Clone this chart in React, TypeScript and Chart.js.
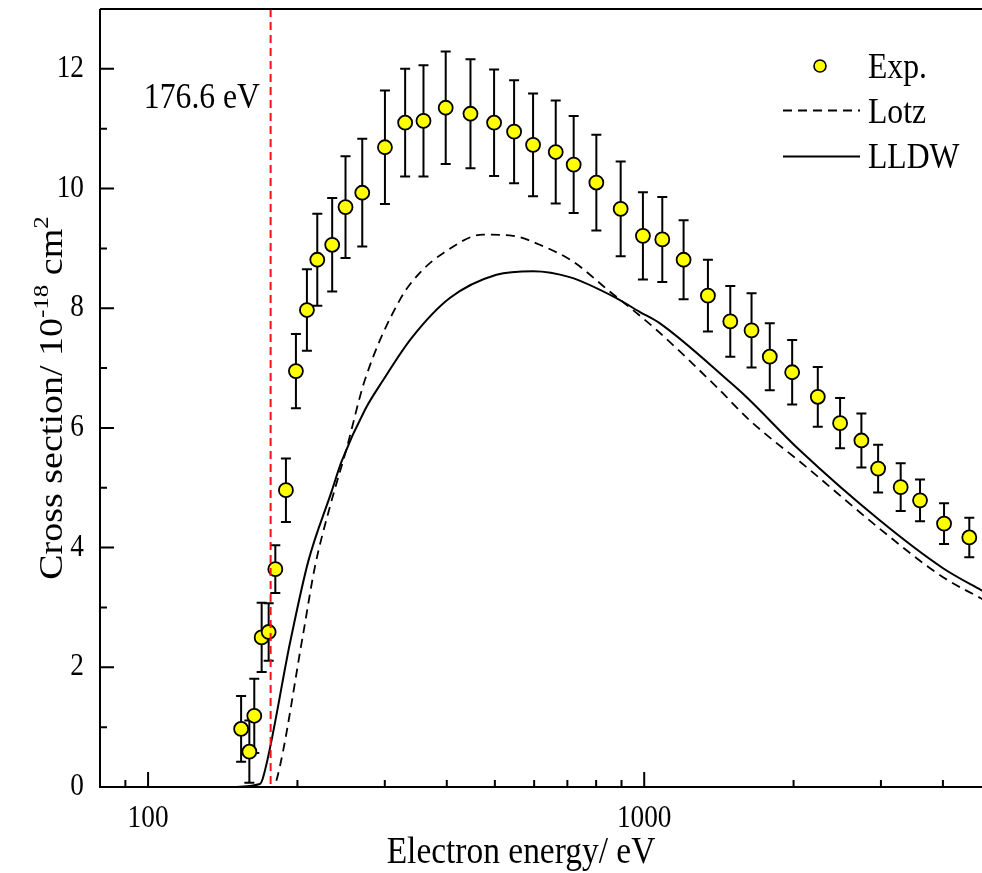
import React, { useEffect, useRef } from "react";
import { Chart, registerables } from "chart.js";
Chart.register(...registerables);

// ---- data ----
const expEnergy = [154, 160, 163.7, 169.4, 175, 180.5, 189.6, 198.6, 209, 219.3, 235, 250, 270.2, 300.2, 329.7, 359, 398, 446.5, 498.2, 546.7, 597, 663.2, 720.8, 800.8, 896.5, 994, 1087.5, 1200.5, 1344, 1491, 1645.6, 1791, 1987, 2238, 2482, 2740, 2961, 3288, 3597, 4021, 4521];
const expCross = [0.97, 0.59, 1.19, 2.5, 2.59, 3.64, 4.96, 6.95, 7.97, 8.81, 9.06, 9.69, 9.93, 10.69, 11.1, 11.13, 11.35, 11.25, 11.1, 10.95, 10.73, 10.61, 10.4, 10.1, 9.66, 9.21, 9.15, 8.81, 8.21, 7.78, 7.63, 7.19, 6.93, 6.52, 6.08, 5.79, 5.32, 5.01, 4.79, 4.4, 4.17];
const expError = [0.55, 0.52, 0.62, 0.58, 0.48, 0.4, 0.53, 0.62, 0.68, 0.77, 0.78, 0.85, 0.9, 0.95, 0.9, 0.93, 0.94, 0.91, 0.89, 0.86, 0.86, 0.86, 0.81, 0.8, 0.79, 0.73, 0.71, 0.66, 0.6, 0.59, 0.62, 0.56, 0.54, 0.5, 0.42, 0.45, 0.4, 0.4, 0.35, 0.34, 0.33];

const lotzEnergy = [150, 178.5, 181.6, 205.5, 216.9, 232.5, 251.3, 273.5, 321.7, 352.9, 393.3, 473.3, 544, 615.7, 718.6, 851.7, 949, 1058, 1397, 1630, 2121, 2979, 3995, 4778, 5000];
const lotzCross = [0, 0, 0.12, 2.57, 3.68, 4.68, 5.66, 6.8, 8.14, 8.59, 8.92, 9.23, 9.21, 9.06, 8.78, 8.28, 7.97, 7.64, 6.69, 6.13, 5.35, 4.32, 3.51, 3.15, 3.06];

const lldwEnergy = [148, 168, 170.7, 193.8, 210.3, 234.4, 245.5, 273.5, 297.8, 339.6, 405.6, 503.7, 597, 707.6, 878.5, 978.8, 1074, 1486, 1605, 2056, 2979, 3995, 4778, 5000];
const lldwCross = [0, 0.05, 0.17, 2.46, 3.77, 4.94, 5.44, 6.3, 6.8, 7.5, 8.17, 8.56, 8.62, 8.52, 8.17, 7.94, 7.75, 6.77, 6.52, 5.63, 4.46, 3.66, 3.29, 3.2];

const thresholdEnergy = 176.6;
const thresholdLabel = "176.6 eV";

const xMajorTicks = [100, 1000];
const xMinorTicks = [90, 200, 300, 400, 500, 600, 700, 800, 900, 2000, 3000, 4000];
const yMajorTicks = [0, 2, 4, 6, 8, 10, 12];
const yMinorTicks = [1, 3, 5, 7, 9, 11];

const legendLabels = ["Exp.", "Lotz", "LLDW"];
const xTitle = "Electron energy/ eV";

// ---- styling ----
const FONT = '"Liberation Serif", "Times New Roman", serif';
const SX = 0.88;

function txt(ctx: CanvasRenderingContext2D, s: string, x: number, y: number, size: number, align: CanvasTextAlign = "left", baseline: CanvasTextBaseline = "alphabetic") {
  ctx.save();
  ctx.translate(x, y);
  ctx.scale(SX, 1);
  ctx.font = `${size}px ${FONT}`;
  ctx.textAlign = align;
  ctx.textBaseline = baseline;
  ctx.fillStyle = "#000";
  ctx.fillText(s, 0, 0);
  ctx.restore();
}

const decor = {
  id: "decor",
  beforeDatasetsDraw(chart: any) {
    const { ctx, scales } = chart;
    const x = scales.x, y = scales.y;
    ctx.save();
    ctx.strokeStyle = "#000";
    ctx.lineWidth = 2;
    for (let i = 0; i < expEnergy.length; i++) {
      const px = x.getPixelForValue(expEnergy[i]);
      const t = y.getPixelForValue(expCross[i] + expError[i]);
      const b = y.getPixelForValue(Math.max(0, expCross[i] - expError[i]));
      ctx.beginPath();
      ctx.moveTo(px, t); ctx.lineTo(px, b);
      ctx.moveTo(px - 5, t); ctx.lineTo(px + 5, t);
      ctx.moveTo(px - 5, b); ctx.lineTo(px + 5, b);
      ctx.stroke();
    }
    ctx.restore();
  },
  afterDatasetsDraw(chart: any) {
    const { ctx, chartArea, scales } = chart;
    const px = scales.x.getPixelForValue(thresholdEnergy);
    ctx.save();
    ctx.strokeStyle = "#ff1010";
    ctx.lineWidth = 2;
    ctx.setLineDash([8, 5]);
    ctx.beginPath();
    ctx.moveTo(px, chartArea.top);
    ctx.lineTo(px, chartArea.bottom);
    ctx.stroke();
    ctx.restore();
  },
  afterDraw(chart: any) {
    const { ctx, chartArea, scales } = chart;
    const x = scales.x, y = scales.y;
    const { left, right, top, bottom } = chartArea;
    ctx.save();
    ctx.strokeStyle = "#000";
    ctx.lineWidth = 2;
    ctx.beginPath();
    ctx.moveTo(left, top); ctx.lineTo(right, top);
    ctx.moveTo(left, top); ctx.lineTo(left, bottom);
    ctx.moveTo(left - 1, bottom); ctx.lineTo(right, bottom);
    ctx.moveTo(right, top); ctx.lineTo(right, bottom);
    yMajorTicks.forEach((v) => { const py = y.getPixelForValue(v); ctx.moveTo(left, py); ctx.lineTo(left + 14, py); });
    yMinorTicks.forEach((v) => { const py = y.getPixelForValue(v); ctx.moveTo(left, py); ctx.lineTo(left + 7, py); });
    xMajorTicks.forEach((v) => { const px = x.getPixelForValue(v); ctx.moveTo(px, bottom); ctx.lineTo(px, bottom - 15); });
    xMinorTicks.forEach((v) => { const px = x.getPixelForValue(v); ctx.moveTo(px, bottom); ctx.lineTo(px, bottom - 7); });
    ctx.stroke();
    ctx.restore();

    yMajorTicks.forEach((v) => txt(ctx, String(v), left - 16, y.getPixelForValue(v), 31, "right", "middle"));
    xMajorTicks.forEach((v) => txt(ctx, String(v), x.getPixelForValue(v), bottom + 32, 31, "center", "middle"));

    txt(ctx, xTitle, 521, 863, 38, "center", "alphabetic");

    ctx.save();
    ctx.translate(62, 398);
    ctx.rotate(-Math.PI / 2);
    ctx.scale(1, SX);
    ctx.fillStyle = "#000";
    ctx.textBaseline = "alphabetic";
    ctx.textAlign = "left";
    const main = 38, sup = 25;
    const parts: [string, number, number][] = [
      ["Cross section/ 10", main, 0],
      ["-18", sup, -16],
      [" cm", main, 0],
      ["2", sup, -16],
    ];
    let total = 0;
    parts.forEach(([s, sz]) => { ctx.font = `${sz}px ${FONT}`; total += ctx.measureText(s).width; });
    let u = -total / 2;
    parts.forEach(([s, sz, dv]) => { ctx.font = `${sz}px ${FONT}`; ctx.fillText(s, u, dv); u += ctx.measureText(s).width; });
    ctx.restore();

    txt(ctx, thresholdLabel, 260, 108, 36, "right", "alphabetic");

    ctx.save();
    ctx.beginPath();
    ctx.arc(820, 66, 6, 0, Math.PI * 2);
    ctx.fillStyle = "#ffff00";
    ctx.fill();
    ctx.lineWidth = 1.6;
    ctx.strokeStyle = "#000";
    ctx.stroke();
    ctx.lineWidth = 2;
    ctx.setLineDash([9, 6]);
    ctx.beginPath();
    ctx.moveTo(783, 110.5); ctx.lineTo(860, 110.5);
    ctx.stroke();
    ctx.setLineDash([]);
    ctx.beginPath();
    ctx.moveTo(783, 156.5); ctx.lineTo(860, 156.5);
    ctx.stroke();
    ctx.restore();
    txt(ctx, legendLabels[0], 868, 78, 36);
    txt(ctx, legendLabels[1], 868, 123, 36);
    txt(ctx, legendLabels[2], 868, 168, 36);
  },
};

export default function App() {
  const ref = useRef<HTMLCanvasElement | null>(null);
  useEffect(() => {
    if (!ref.current) return;
    const chart = new Chart(ref.current, {
      type: "scatter",
      data: {
        datasets: [
          {
            label: legendLabels[1],
            data: lotzEnergy.map((e, i) => ({ x: e, y: lotzCross[i] })),
            showLine: true,
            borderColor: "#000",
            borderWidth: 1.8,
            borderDash: [9, 6],
            pointRadius: 0,
            cubicInterpolationMode: "monotone",
            fill: false,
          },
          {
            label: legendLabels[2],
            data: lldwEnergy.map((e, i) => ({ x: e, y: lldwCross[i] })),
            showLine: true,
            borderColor: "#000",
            borderWidth: 2,
            pointRadius: 0,
            cubicInterpolationMode: "monotone",
            fill: false,
          },
          {
            label: legendLabels[0],
            data: expEnergy.map((e, i) => ({ x: e, y: expCross[i] })),
            showLine: false,
            pointRadius: 7,
            pointBackgroundColor: "#ffff00",
            pointBorderColor: "#000",
            pointBorderWidth: 1.8,
          },
        ],
      },
      options: {
        responsive: false,
        animation: false,
        devicePixelRatio: 1,
        layout: { padding: { left: 100, top: 9, right: 9, bottom: 86 } },
        plugins: { legend: { display: false }, tooltip: { enabled: false } },
        scales: {
          x: { type: "logarithmic", min: 80, max: 5000, display: false },
          y: { type: "linear", min: 0, max: 13, display: false },
        },
      },
      plugins: [decor],
    });
    return () => chart.destroy();
  }, []);
  return (
    <div style={{ position: "fixed", left: 0, top: 0, width: 982, height: 873, overflow: "hidden", background: "#fff" }}>
      <canvas ref={ref} width={1000} height={873} style={{ display: "block", width: 1000, height: 873 }} />
    </div>
  );
}
